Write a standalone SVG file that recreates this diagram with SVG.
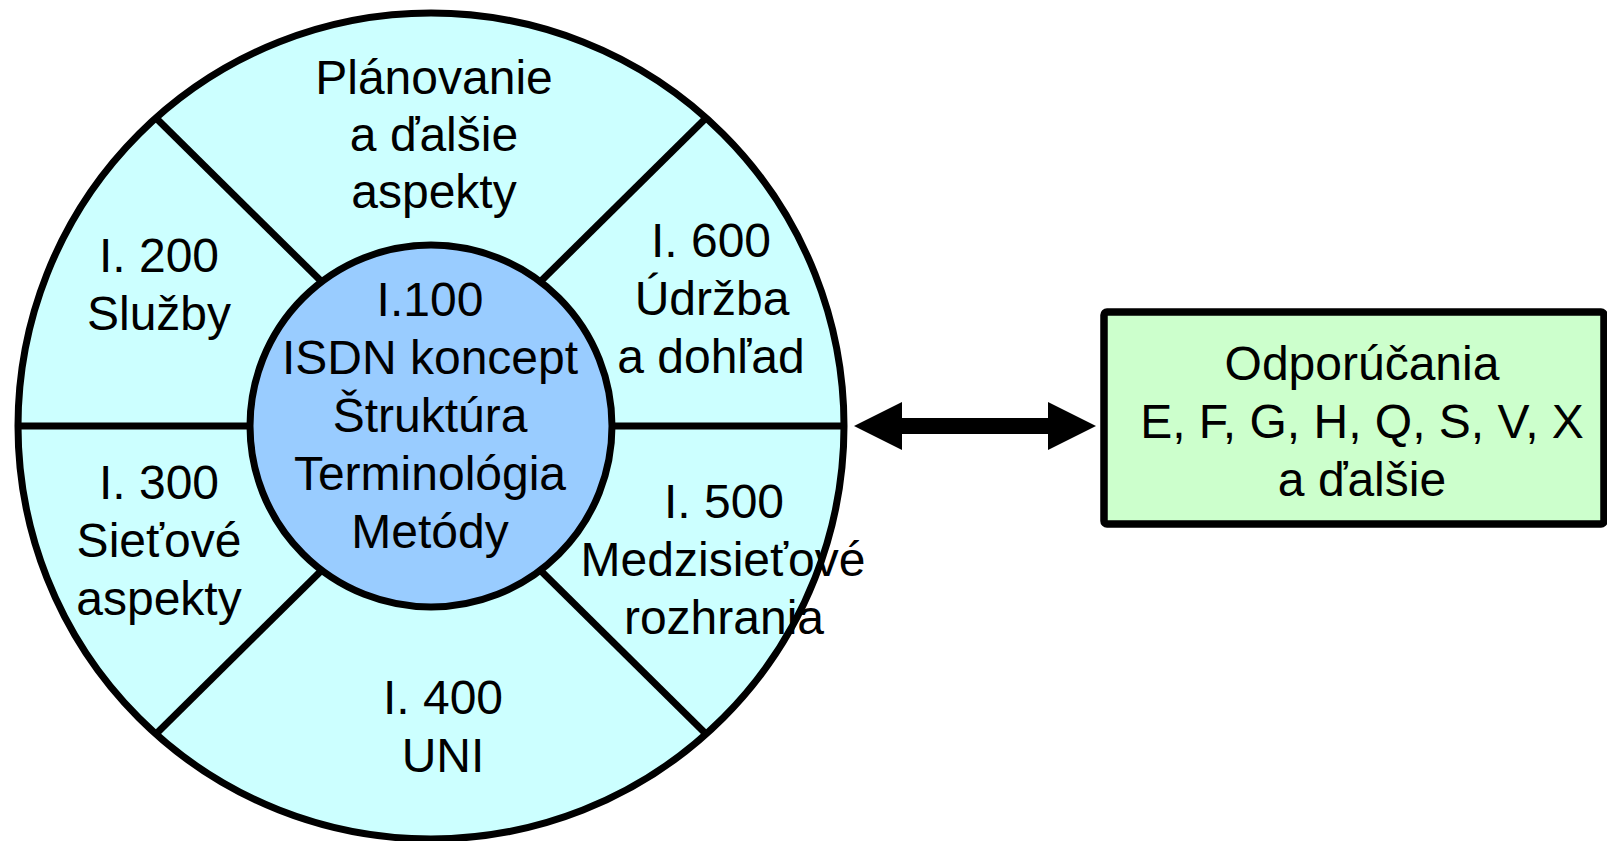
<svg xmlns="http://www.w3.org/2000/svg" width="1607" height="841" viewBox="0 0 1607 841">
<style>
.t{font-family:"Liberation Sans",Arial,sans-serif;font-size:48px;fill:#000;text-anchor:middle}
.ln{stroke:#000;stroke-width:7;fill:none}
</style>
<rect width="1607" height="841" fill="#fff"/>
<g id="ring">
<circle cx="431" cy="426" r="413" fill="#CCFFFF" stroke="#000" stroke-width="7"/>
<line class="ln" x1="16" y1="426" x2="260" y2="426"/>
<line class="ln" x1="602" y1="426" x2="846" y2="426"/>
<line class="ln" x1="156" y1="118" x2="326" y2="286"/>
<line class="ln" x1="706" y1="118" x2="536" y2="286"/>
<line class="ln" x1="156" y1="734" x2="326" y2="566"/>
<line class="ln" x1="706" y1="734" x2="536" y2="566"/>
</g>
<g id="seg-planovanie">
<text class="t" x="434" y="94">Plánovanie</text>
<text class="t" x="434" y="151">a ďalšie</text>
<text class="t" x="434" y="208">aspekty</text>
</g>
<g id="seg-200">
<text class="t" x="159" y="272">I. 200</text>
<text class="t" x="159" y="330">Služby</text>
</g>
<g id="seg-300">
<text class="t" x="159" y="499">I. 300</text>
<text class="t" x="159" y="557">Sieťové</text>
<text class="t" x="159" y="615">aspekty</text>
</g>
<g id="seg-400">
<text class="t" x="443" y="714">I. 400</text>
<text class="t" x="443" y="772">UNI</text>
</g>
<g id="seg-500">
<text class="t" x="724" y="518">I. 500</text>
<text class="t" x="723" y="576">Medzisieťové</text>
<text class="t" x="724" y="634">rozhrania</text>
</g>
<g id="seg-600">
<text class="t" x="711" y="257">I. 600</text>
<text class="t" x="712" y="315">Údržba</text>
<text class="t" x="711" y="373">a dohľad</text>
</g>
<g id="core">
<circle cx="431" cy="426" r="181" fill="#99CCFF" stroke="#000" stroke-width="7"/>
<text class="t" x="430" y="316">I.100</text>
<text class="t" x="430" y="374">ISDN koncept</text>
<text class="t" x="430" y="432">Štruktúra</text>
<text class="t" x="430" y="490">Terminológia</text>
<text class="t" x="430" y="548">Metódy</text>
</g>
<g id="connectors">
<polygon points="854,426 902,402 902,418 1048,418 1048,402 1096,426 1048,450 1048,434 902,434 902,450" fill="#000"/>
</g>
<g id="odporucania">
<rect x="1104" y="312" width="500" height="212" rx="3" fill="#CCFFCC" stroke="#000" stroke-width="7.5"/>
<text class="t" x="1362" y="380">Odporúčania</text>
<text class="t" x="1362" y="438">E, F, G, H, Q, S, V, X</text>
<text class="t" x="1362" y="496">a ďalšie</text>
</g>
</svg>
